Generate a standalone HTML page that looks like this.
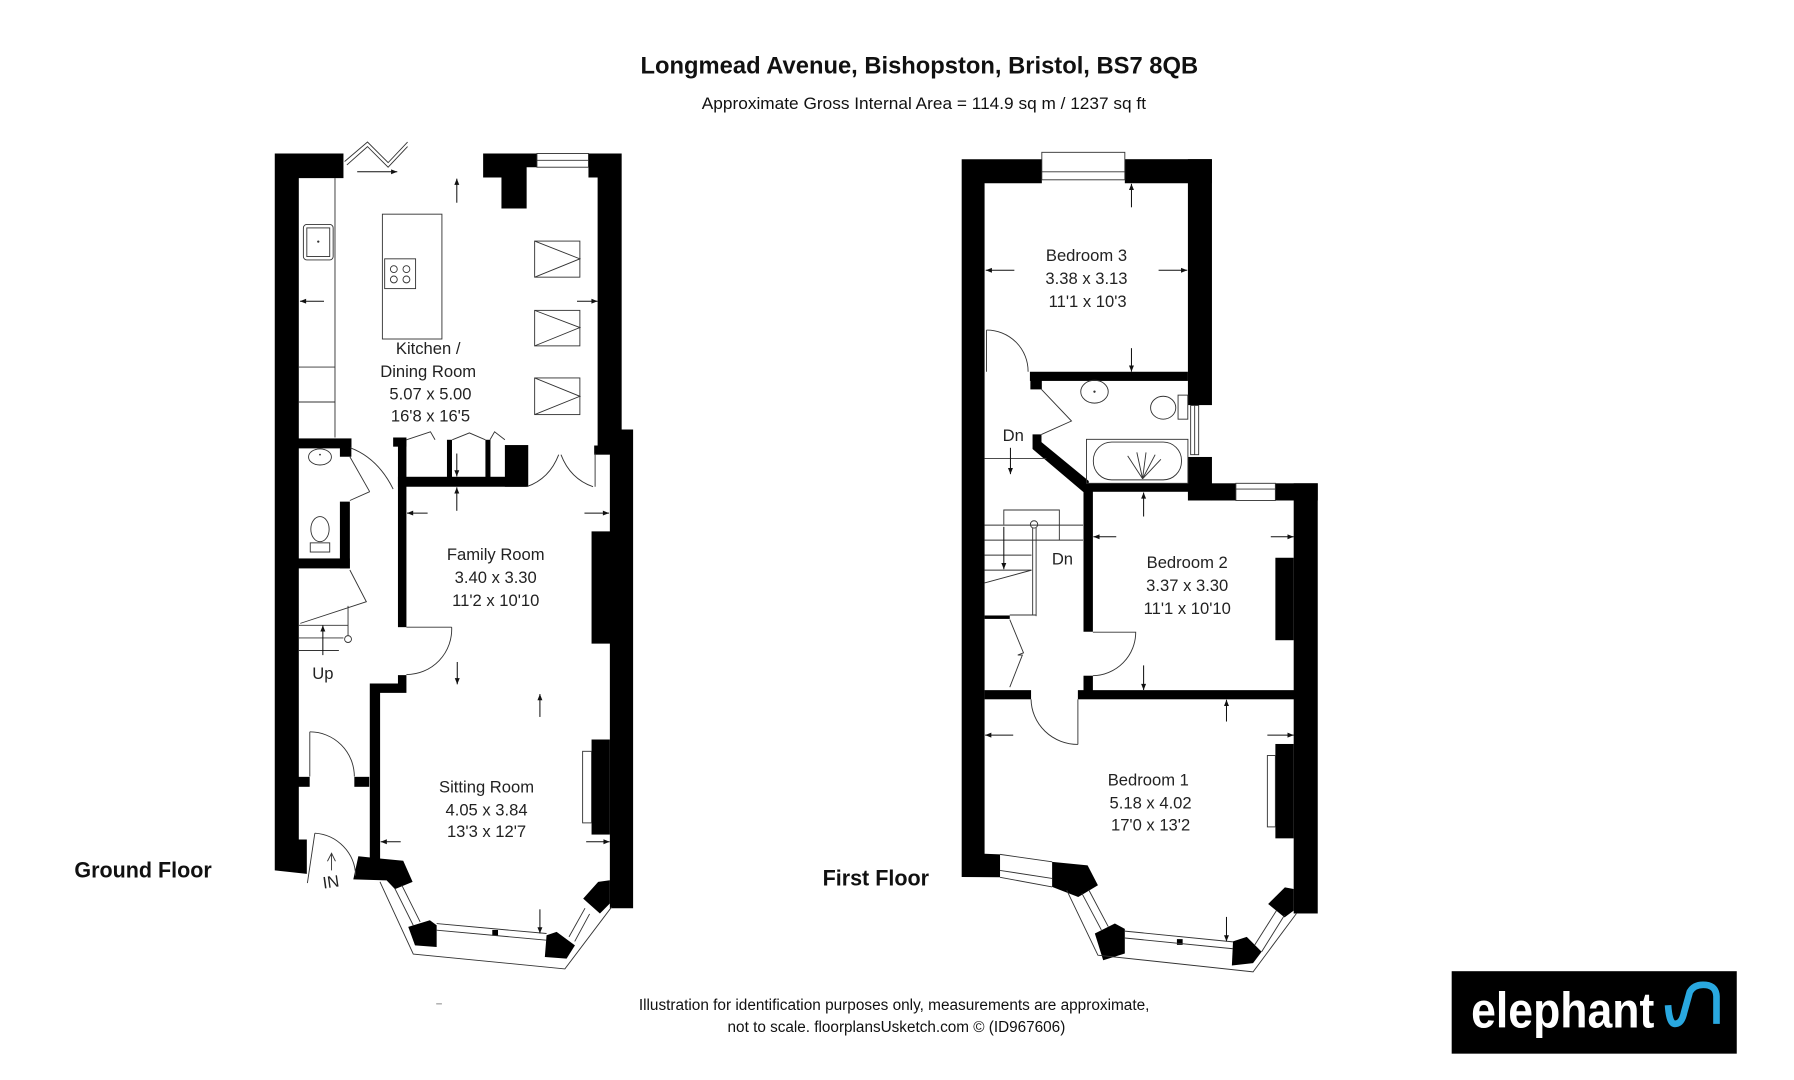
<!DOCTYPE html>
<html><head><meta charset="utf-8"><style>
html,body{margin:0;padding:0;background:#fff;}
svg{display:block;}
.t{font-family:"Liberation Sans",Arial,sans-serif;font-size:14.5px;fill:#222;text-anchor:middle;}
.n{font-family:"Liberation Sans Narrow","Liberation Sans",Arial,sans-serif;fill:#111;}
.l{fill:none;stroke:#333;stroke-width:0.8;}
.w{fill:#000;}
.a{stroke:#111;stroke-width:0.9;fill:none;}
</style></head><body>
<svg width="1794" height="1080" viewBox="0 0 1567 943" preserveAspectRatio="none" xmlns="http://www.w3.org/2000/svg">
<defs>
<marker id="m" viewBox="0 0 10 10" refX="10" refY="5" markerWidth="7" markerHeight="6" orient="auto"><path d="M0,1 L10,5 L0,9 z" fill="#111"/></marker>
</defs>
<rect width="1567" height="943" fill="#fff"/>
<text class="n" x="803" y="64" font-size="21" font-weight="bold" text-anchor="middle" textLength="487" lengthAdjust="spacingAndGlyphs">Longmead Avenue, Bishopston, Bristol, BS7 8QB</text>
<text class="n" x="807" y="95" font-size="14.5" text-anchor="middle" textLength="388" lengthAdjust="spacingAndGlyphs">Approximate Gross Internal Area = 114.9 sq m / 1237 sq ft</text>
<text class="n" x="125" y="766" font-size="19" font-weight="bold" text-anchor="middle" textLength="120" lengthAdjust="spacingAndGlyphs">Ground Floor</text>
<text class="n" x="765" y="773" font-size="19" font-weight="bold" text-anchor="middle" textLength="93" lengthAdjust="spacingAndGlyphs">First Floor</text>
<text class="n" x="781" y="882" font-size="14" text-anchor="middle" textLength="446" lengthAdjust="spacingAndGlyphs">Illustration for identification purposes only, measurements are approximate,</text>
<text class="n" x="783" y="901" font-size="14" text-anchor="middle" textLength="295" lengthAdjust="spacingAndGlyphs">not to scale. floorplansUsketch.com © (ID967606)</text>
<rect x="1268" y="848" width="249" height="72" fill="#000"/>
<text x="1285" y="897" font-family="Liberation Sans,Arial,sans-serif" font-weight="bold" font-size="44" fill="#fff" textLength="160" lengthAdjust="spacingAndGlyphs">elephant</text>
<path d="M1457,877.7 Q1458,894 1463,894 Q1469,894 1471,884 L1476,866 Q1480,859 1490,860 Q1499,861 1499.3,870 L1499.3,894" fill="none" stroke="#29a8e0" stroke-width="5.8" stroke-linecap="butt"/>
<circle cx="1487" cy="869" r="1.3" fill="#000"/>

<g class="w">
<polygon points="240,134 300,134 300,155.5 261,155.5 261,733 268,733 268,763 240,760"/>
<polygon points="422,134 469,134 469,146 460,146 460,182 438,182 438,155 422,155"/>
<polygon points="514,134 543,134 543,375 553,375 553,793 532.7,793 532.7,562 516.7,562 516.7,464 532.7,464 532.7,396 522,396 522,155 514,155"/>
<rect x="519" y="389" width="14" height="8"/>
<rect x="516.7" y="645.7" width="16" height="83"/>
<rect x="343.4" y="382" width="11.6" height="8"/>
<rect x="347.6" y="384" width="7.4" height="163.6"/>
<rect x="347.6" y="416.3" width="112.3" height="8.7"/>
<rect x="441" y="388.6" width="20.4" height="36.4"/>
<rect x="390.4" y="384" width="4.4" height="33"/>
<rect x="424" y="384" width="4.4" height="33"/>
<polygon points="347.6,589.5 355,589.5 355,605 332,605 332,749.6 323,749.6 323,596.8 347.6,596.8"/>
<polygon points="313,747.6 331.9,749.6 352.2,751.6 360.4,770 345,776.3 337.7,768.7 308.6,767.8"/>
<rect x="260.5" y="678.3" width="10" height="8.7"/>
<rect x="309.5" y="678.3" width="13" height="8.7"/>
<rect x="260.5" y="382.8" width="46.5" height="8.7"/>
<rect x="296.9" y="391" width="10" height="7.8"/>
<rect x="296.9" y="438" width="8.7" height="58.3"/>
<rect x="260.5" y="487.6" width="45" height="8.7"/>
<polygon points="356.6,809.3 375.5,803.5 381.4,807.9 381.4,826.9 362.5,825.4"/>
<polygon points="477.4,816.6 486.2,813.7 502.2,825.4 494.9,837 475.9,835.6"/>
<polygon points="509.4,784.6 522.5,770 532.7,768.6 532.7,788.9 524,797.6"/>
<rect x="430" y="812" width="5" height="5"/>
</g>
<rect class="l" x="469" y="134" width="45" height="12"/>
<line class="l" x1="469" y1="140" x2="514" y2="140"/>
<polyline class="l" points="301,141 321,124 339,142 356,124" stroke-width="1.2"/>
<polyline class="l" points="303,144 321,128 339,146 356,128"/>
<line class="a" x1="312" y1="150" x2="347" y2="150" marker-end="url(#m)"/>
<line class="l" x1="292.6" y1="155.5" x2="292.6" y2="382"/>
<line class="l" x1="261" y1="320.5" x2="292.6" y2="320.5"/>
<line class="l" x1="261" y1="351" x2="292.6" y2="351"/>
<rect class="l" x="265" y="196" width="26" height="31" rx="3"/>
<rect class="l" x="268" y="199" width="20" height="25"/>
<circle cx="278" cy="211" r="1" fill="#333"/>
<rect class="l" x="334" y="187" width="52" height="109"/>
<rect class="l" x="336" y="226" width="27" height="26"/>
<g class="l"><circle cx="344" cy="235" r="3"/><circle cx="355" cy="235" r="3"/><circle cx="344" cy="244" r="3"/><circle cx="355" cy="244" r="3"/></g>
<g class="l">
<rect x="467" y="210.5" width="39.5" height="31.5"/><polyline points="467,210.5 506.5,226 467,242"/>
<rect x="467" y="271" width="39.5" height="31"/><polyline points="467,271 506.5,286 467,302"/>
<rect x="467" y="330" width="39.5" height="32"/><polyline points="467,330 506.5,346 467,362"/>
</g>
<polyline class="l" points="355,384 376,377 380,384"/>
<polyline class="l" points="395,384 410,378 424,384"/>
<polyline class="l" points="428,384 432,377 441,384"/>
<path class="l" d="M460,425 Q480,418 488,397 M518,425 Q498,418 490,397"/>
<line class="l" x1="519.8" y1="396" x2="519.8" y2="425"/>
<ellipse class="l" cx="279.5" cy="399" rx="10" ry="7"/>
<circle cx="279.5" cy="397" r="0.8" fill="#333"/>
<ellipse class="l" cx="279.5" cy="462" rx="8" ry="11"/>
<rect class="l" x="271" y="474" width="17" height="8"/>
<line class="l" x1="305.6" y1="398.8" x2="322.9" y2="429.3"/>
<path class="l" d="M306,391 Q330,400 343.4,427"/>
<line class="l" x1="322.9" y1="429.3" x2="305.6" y2="437"/>
<polyline class="l" points="305.6,497.7 320,525.4 262.3,544.3"/>
<line class="l" x1="261" y1="546" x2="304" y2="546"/>
<line class="l" x1="261" y1="557" x2="300" y2="557"/>
<line class="l" x1="261" y1="568" x2="296" y2="568"/>
<line class="l" x1="304" y1="529" x2="304" y2="555"/>
<circle class="l" cx="304" cy="558" r="3"/>
<line class="a" x1="282" y1="572" x2="282" y2="546" marker-end="url(#m)"/>
<text class="t" x="282" y="593">Up</text>
<line class="l" x1="270.6" y1="639" x2="270.6" y2="678"/>
<path class="l" d="M270.6,639 A39,39 0 0 1 309.5,678"/>
<line class="l" x1="275" y1="727.5" x2="268.5" y2="771"/>
<path class="l" d="M275,727.5 A38,38 0 0 1 310.6,764.6"/>
<path class="l" d="M286,752 L289.6,745 L293,752 M289.6,746 L289.6,760"/>
<text class="t" x="289" y="775" font-size="14" transform="rotate(-8 289 770)">IN</text>
<line class="l" x1="355" y1="547.6" x2="394.5" y2="547.6"/>
<path class="l" d="M394.5,547.6 A39.5,39.5 0 0 1 355,589"/>
<rect class="l" x="508.9" y="656" width="7.8" height="62.5"/>
<g class="l">
<polyline points="331.9,770 361,833 493.4,846 534.2,792"/>
<line x1="345" y1="776" x2="361" y2="808"/><line x1="351" y1="773" x2="367" y2="805"/>
<line x1="381.4" y1="806.4" x2="477.4" y2="815.1"/><line x1="381.4" y1="812.2" x2="477.4" y2="820.9"/>
<line x1="502" y1="822" x2="515" y2="798"/><line x1="497" y1="818" x2="511" y2="793"/>
</g>
<g class="a">
<line x1="283" y1="263" x2="262" y2="263" marker-end="url(#m)"/>
<line x1="504" y1="263" x2="522" y2="263" marker-end="url(#m)"/>
<line x1="399" y1="177" x2="399" y2="156" marker-end="url(#m)"/>
<line x1="399" y1="396" x2="399" y2="416" marker-end="url(#m)"/>
<line x1="399" y1="446" x2="399" y2="425.5" marker-end="url(#m)"/>
<line x1="373.5" y1="448" x2="355.5" y2="448" marker-end="url(#m)"/>
<line x1="510.5" y1="448" x2="532" y2="448" marker-end="url(#m)"/>
<line x1="399.4" y1="578" x2="399.4" y2="597.5" marker-end="url(#m)"/>
<line x1="471.6" y1="626" x2="471.6" y2="606" marker-end="url(#m)"/>
<line x1="350" y1="735" x2="332.5" y2="735" marker-end="url(#m)"/>
<line x1="512" y1="735" x2="532.5" y2="735" marker-end="url(#m)"/>
<line x1="471.6" y1="794" x2="471.6" y2="815" marker-end="url(#m)"/>
</g>
<text class="t" x="374" y="309">Kitchen /</text>
<text class="t" x="374" y="329">Dining Room</text>
<text class="t" x="376" y="349">5.07 x 5.00</text>
<text class="t" x="376" y="368">16'8 x 16'5</text>
<text class="t" x="433" y="489">Family Room</text>
<text class="t" x="433" y="509">3.40 x 3.30</text>
<text class="t" x="433" y="529">11'2 x 10'10</text>
<text class="t" x="425" y="692">Sitting Room</text>
<text class="t" x="425" y="712">4.05 x 3.84</text>
<text class="t" x="425" y="731">13'3 x 12'7</text>
<rect x="381" y="876" width="5" height="1" fill="#999"/>

<g class="w">
<polygon points="840,139 910,139 910,160 860,160 860,745.4 873.5,746 873.5,766 840,765.7"/>
<rect x="982.5" y="139" width="76" height="21"/>
<rect x="1037.6" y="139" width="21" height="214.7"/>
<rect x="899.6" y="324.6" width="138" height="8"/>
<rect x="900" y="332" width="10" height="8"/>
<polygon points="901.9,379.3 909.7,379.3 909.7,386 951,420 951,429.4 946,429.4 901.9,392"/>
<rect x="946.4" y="422" width="8.2" height="129.6"/>
<rect x="946.4" y="590" width="8.2" height="13"/>
<rect x="946" y="422" width="92" height="7.4"/>
<rect x="1037.6" y="399" width="21" height="38"/>
<rect x="1058" y="422" width="21.5" height="15"/>
<rect x="1114" y="422" width="37" height="15"/>
<rect x="1130" y="422" width="21" height="375.6"/>
<rect x="1114" y="487" width="16" height="72"/>
<rect x="1114" y="649.6" width="16" height="82.4"/>
<rect x="860" y="602.6" width="40.6" height="8"/>
<rect x="941.5" y="602.6" width="189.5" height="8"/>
<rect x="860" y="537.4" width="22" height="3"/>
<polygon points="919,752.5 950,755.6 959,773 941.8,783.2 919,774.4"/>
<polygon points="956.3,815.1 973.8,806.4 982.5,811 982.5,832.6 963.6,838.4"/>
<polygon points="1077,822 1089,818 1102,831 1094.5,841 1076,843"/>
<polygon points="1107.7,789.3 1122.3,774.8 1130,776.2 1130,795.1 1122,801"/>
<rect x="1028" y="820" width="5" height="5"/>
</g>
<rect class="l" x="910" y="133" width="72.5" height="24"/>
<line class="l" x1="910" y1="150" x2="982.5" y2="150"/>
<rect class="l" x="1040" y="354" width="7" height="43"/>
<line class="l" x1="1043.5" y1="354" x2="1043.5" y2="397"/>
<rect class="l" x="1079.5" y="422" width="34.5" height="15"/>
<line class="l" x1="1079.5" y1="427" x2="1114" y2="427"/>
<g class="l">
<polyline points="873.5,746 919,752.5"/><polyline points="873.5,766 919,774.4"/>
<line x1="873.5" y1="760" x2="919" y2="767"/>
<polyline points="931.7,777.2 959,834 1094.5,848.6 1132.4,797.6"/>
<line x1="945" y1="780" x2="962" y2="812"/><line x1="951" y1="777" x2="968" y2="809"/>
<line x1="982.5" y1="813" x2="1077" y2="822.4"/><line x1="982.5" y1="819" x2="1077" y2="828.4"/>
<line x1="1102" y1="831" x2="1122" y2="799"/><line x1="1096" y1="825" x2="1115" y2="795"/>
</g>
<line class="l" x1="861.7" y1="288.2" x2="861.7" y2="324.6"/>
<path class="l" d="M861.7,288.2 A36,36 0 0 1 898,324.6"/>
<polyline class="l" points="909.7,340 935.9,367.6 909.7,379.3"/>
<ellipse class="l" cx="956" cy="342" rx="12" ry="10"/>
<circle cx="956" cy="342" r="1" fill="#333"/>
<ellipse class="l" cx="1016" cy="356" rx="11" ry="10"/>
<rect class="l" x="1029" y="345" width="8.5" height="21"/>
<rect class="l" x="949" y="383.6" width="88.6" height="38.4"/>
<rect class="l" x="955" y="386" width="77" height="33" rx="16"/>
<g class="l"><line x1="998" y1="418" x2="985" y2="398"/><line x1="998" y1="418" x2="993" y2="395"/><line x1="998" y1="418" x2="1001" y2="395"/><line x1="998" y1="418" x2="1009" y2="397"/><line x1="998" y1="418" x2="1014" y2="401"/></g>
<g class="l">
<line x1="860" y1="400.3" x2="914" y2="400.3"/>
<line x1="860" y1="458.5" x2="946" y2="458.5"/>
<line x1="860" y1="471.6" x2="946" y2="471.6"/>
<line x1="860" y1="484.7" x2="901" y2="484.7"/>
<line x1="860" y1="497.8" x2="901" y2="497.8"/>
<line x1="860" y1="509" x2="901" y2="497.8"/>
<polyline points="876.8,458 876.8,445.3 925.3,445.3 925.3,471.6"/>
<line x1="902" y1="461" x2="902" y2="537"/><line x1="905" y1="461" x2="905" y2="538"/>
<line x1="882" y1="537" x2="905" y2="537"/>
<circle cx="903.2" cy="457.9" r="3.2"/>
<polyline points="882,541 894,570 889,572 893,572 882,600"/>
</g>
<text class="t" x="885" y="385">Dn</text>
<text class="t" x="928" y="493">Dn</text>
<path class="l" d="M954.6,552 L992,552 A38,38 0 0 1 954.6,590"/>
<line class="l" x1="941.5" y1="610.6" x2="941.5" y2="650"/>
<path class="l" d="M900.6,610.6 A40.9,40 0 0 0 941.5,650"/>
<rect class="l" x="1107" y="659.7" width="7" height="62.3"/>
<g class="a">
<line x1="886" y1="236" x2="861" y2="236" marker-end="url(#m)"/>
<line x1="1012" y1="236" x2="1037" y2="236" marker-end="url(#m)"/>
<line x1="988.3" y1="181" x2="988.3" y2="160.5" marker-end="url(#m)"/>
<line x1="988.3" y1="304" x2="988.3" y2="324.5" marker-end="url(#m)"/>
<line x1="882.6" y1="391" x2="882.6" y2="414" marker-end="url(#m)"/>
<line x1="876.8" y1="460" x2="876.8" y2="497" marker-end="url(#m)"/>
<line x1="998.9" y1="451" x2="998.9" y2="430" marker-end="url(#m)"/>
<line x1="975" y1="468.7" x2="955" y2="468.7" marker-end="url(#m)"/>
<line x1="1110" y1="468.7" x2="1130" y2="468.7" marker-end="url(#m)"/>
<line x1="998.9" y1="581" x2="998.9" y2="602.5" marker-end="url(#m)"/>
<line x1="1071.3" y1="630" x2="1071.3" y2="611" marker-end="url(#m)"/>
<line x1="885" y1="641.9" x2="860.5" y2="641.9" marker-end="url(#m)"/>
<line x1="1107" y1="641.9" x2="1130" y2="641.9" marker-end="url(#m)"/>
<line x1="1071.3" y1="800.6" x2="1071.3" y2="822" marker-end="url(#m)"/>
</g>
<text class="t" x="949" y="228">Bedroom 3</text>
<text class="t" x="949" y="248">3.38 x 3.13</text>
<text class="t" x="950" y="268">11'1 x 10'3</text>
<text class="t" x="1037" y="496">Bedroom 2</text>
<text class="t" x="1037" y="516">3.37 x 3.30</text>
<text class="t" x="1037" y="536">11'1 x 10'10</text>
<text class="t" x="1003" y="686">Bedroom 1</text>
<text class="t" x="1005" y="706">5.18 x 4.02</text>
<text class="t" x="1005" y="725">17'0 x 13'2</text>
</svg>
</body></html>
